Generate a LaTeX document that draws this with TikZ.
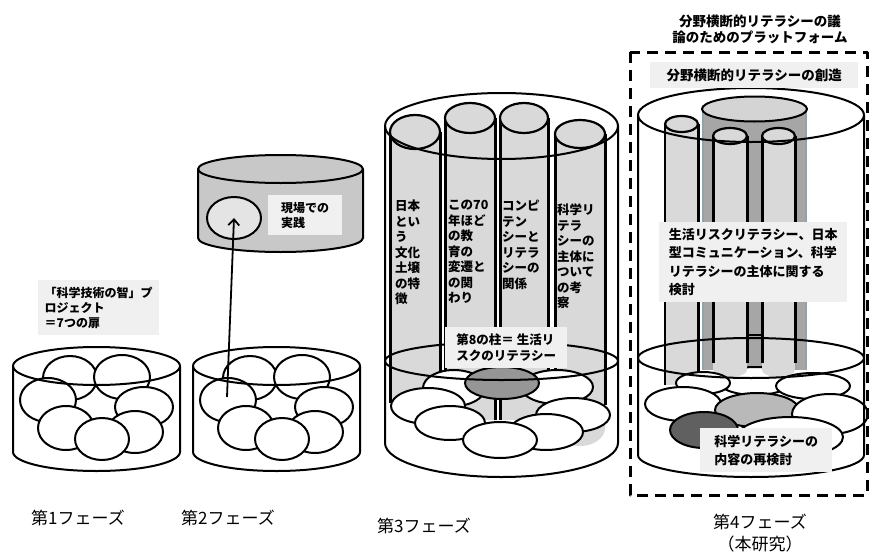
\documentclass[tikz,border=0pt]{standalone}
\usepackage{fontspec}
\newfontfamily\jp{Noto Sans CJK JP}
\usetikzlibrary{arrows.meta,shapes.geometric}
\definecolor{boxgray}{RGB}{240,240,240}
\definecolor{pilgray}{RGB}{217,217,217}
\definecolor{cylgray}{RGB}{200,200,200}
\definecolor{midoval}{RGB}{150,150,150}
\definecolor{bigcyl}{RGB}{166,166,166}
\definecolor{bigtop}{RGB}{212,212,212}
\definecolor{bigedge}{RGB}{143,163,168}
\definecolor{lightoval}{RGB}{185,185,185}
\definecolor{darkoval}{RGB}{96,96,96}
\definecolor{practgray}{RGB}{228,228,228}
\begin{document}
\begin{tikzpicture}[x=1pt,y=-1pt,line join=round,
  cyl/.style={line width=2pt},
  oval/.style={line width=2pt,fill=white},
  pilside/.style={line width=3pt},
  lbl/.style={fill=boxgray,align=left,inner sep=0pt,anchor=north west},
  ptxt/.style={anchor=north west,inner sep=0pt,align=left,font=\jp\bfseries\fontsize{12.5}{15.5}\selectfont},
  phase/.style={font=\jp\fontsize{17}{22}\selectfont,align=center}]
\useasboundingbox (0,0) rectangle (871,560);

% ---------------- Phase 1 and 2 bowls ----------------
\foreach \dx in {0,180}{
 \begin{scope}[xshift=\dx]
  \foreach \cx/\cy/\rx/\ry in {70/378/27/22,122/377/28/22,144/407/29/20,48/400/28/22,66/428/28/22,135/432/28/21,102/439/27/21}
    \draw[oval] (\cx,\cy) ellipse [x radius=\rx pt, y radius=\ry pt];
  \draw[cyl] (13,366) -- (13,452) arc[start angle=180,end angle=360,x radius=83.5pt,y radius=19pt] -- (180,366);
  \draw[cyl] (96.5,366) ellipse [x radius=83.5pt, y radius=19pt];
 \end{scope}}

\node[lbl,font=\jp\bfseries\fontsize{12}{15}\selectfont,minimum height=55pt,minimum width=121pt] (p1box) at (38,280)
  {「科学技術の智」プ\\ロジェクト\\＝7つの扉};

% ---------------- Phase 2 upper cylinder ----------------
\fill[cylgray] (198,169) rectangle (363,238);
\fill[cylgray] (280.5,238) ellipse [x radius=82.5pt, y radius=14pt];
\draw[cyl] (198,169) -- (198,238) arc[start angle=180,end angle=360,x radius=82.5pt,y radius=14pt] -- (363,169);
\draw[cyl,fill=cylgray] (280.5,169) ellipse [x radius=82.5pt, y radius=14pt];
\node[draw,ellipse,line width=2pt,fill=practgray,minimum width=54pt,minimum height=42pt,inner sep=0pt] (pract) at (234,218) {};
\node[lbl,font=\jp\bfseries\fontsize{12}{15}\selectfont,minimum height=40pt,minimum width=74pt] (p2box) at (268,195) {現場での\\実践};
\coordinate (arrstart) at (227,397);
\draw[line width=1.8pt,-{Straight Barb[length=6pt,width=11pt,line width=1.8pt]}] (arrstart) -- (pract.center);

% ---------------- Phase 3 ----------------
\foreach \xl/\xr/\yt/\yb/\ry in {390/440/132/403/17,445/495/118/420/15,500/548/118/420/15}{
  \pgfmathsetmacro\rr{(\xr-\xl)/2}
  \pgfmathsetmacro\mx{(\xr+\xl)/2}
  \fill[pilgray] (\xl,\yt) rectangle (\xr,\yb);
  \draw[pilside] (\xl,\yt) -- (\xl,\yb);
  \draw[pilside] (\xr,\yt) -- (\xr,\yb);
  \draw[line width=2.2pt,fill=pilgray] (\mx,\yt) ellipse [x radius=\rr pt, y radius=\ry pt];
}
% pillar 4 with rounded bottom
\fill[pilgray] (555,134) rectangle (605,428);
\fill[pilgray] (580,428) ellipse [x radius=25pt, y radius=18pt];
\draw[pilside] (555,134) -- (555,405);
\draw[pilside] (605,134) -- (605,405);
\draw[line width=2.2pt,fill=pilgray] (580,134) ellipse [x radius=25pt, y radius=14pt];

\node[ptxt] (t31) at (395,200) {日本\\とい\\う\\文化\\土壌\\の特\\徴};
\node[ptxt] (t32) at (448,200) {この70\\年ほど\\の教\\育の\\変遷と\\の関\\わり};
\node[ptxt] (t33) at (502,200) {コンピ\\テン\\シーと\\リテラ\\シーの\\関係};
\node[ptxt] (t34) at (557,204) {科学リ\\テラ\\シーの\\主体に\\ついて\\の考\\察};
\draw[oval] (454,388) ellipse [x radius=31pt, y radius=18pt];
\draw[oval] (557,387) ellipse [x radius=36pt, y radius=17pt];
\draw[line width=2pt,fill=midoval] (502,383) ellipse [x radius=37pt, y radius=16pt];
\draw[oval] (428,406) ellipse [x radius=37pt, y radius=18pt];
\draw[oval] (573,415) ellipse [x radius=37pt, y radius=17pt];
\draw[oval] (450,423) ellipse [x radius=35pt, y radius=17pt];
\draw[oval] (546,432) ellipse [x radius=37pt, y radius=18pt];
\draw[oval] (500,440) ellipse [x radius=37pt, y radius=18pt];
\draw[cyl] (501.5,361) ellipse [x radius=116.5pt, y radius=19pt];
\node[lbl,font=\jp\bfseries\fontsize{12.5}{16.5}\selectfont,minimum height=41pt,minimum width=122pt] (p3box) at (445,327) {第8の柱＝ 生活リ\\スクのリテラシー};
\draw[cyl] (385,126) -- (385,443) arc[start angle=180,end angle=360,x radius=116.5pt,y radius=34pt] -- (618,126);
\draw[cyl] (501.5,126) ellipse [x radius=116.5pt, y radius=33pt];

% ---------------- Phase 4 ----------------
\fill[bigcyl] (702,109) rectangle (807,370);
\draw[bigedge,line width=2.5pt] (703,109) -- (703,370);
\draw[bigedge,line width=2.5pt] (806,109) -- (806,370);
\draw[line width=2pt,fill=bigtop] (754.5,109) ellipse [x radius=52.5pt, y radius=12.5pt];
\fill[pilgray] (665,124) rectangle (698,385);
\draw[line width=1.5pt] (665,124) -- (665,385);
\draw[pilside] (698,124) -- (698,385);
\draw[line width=2.2pt,fill=pilgray] (681.5,124) ellipse [x radius=16.5pt, y radius=8pt];
\draw[oval] (755,381) ellipse [x radius=37pt, y radius=14pt];
\foreach \xl/\xr in {713/747,762/795}{
  \pgfmathsetmacro\rr{(\xr-\xl)/2}
  \pgfmathsetmacro\mx{(\xr+\xl)/2}
  \fill[pilgray] (\xl,136) rectangle (\xr,370);
  \fill[pilgray] (\mx,370) ellipse [x radius=\rr pt, y radius=7pt];
  \draw[pilside] (\xl,136) -- (\xl,363);
  \draw[pilside] (\xr,136) -- (\xr,363);
  \draw[line width=2.2pt,fill=pilgray] (\mx,136) ellipse [x radius=\rr pt, y radius=8pt];
}
\draw[line width=1.5pt] (747,335) -- (762,335);
\draw[oval] (703,383) ellipse [x radius=27pt, y radius=11pt];
\draw[oval] (813,386) ellipse [x radius=37pt, y radius=13pt];
\draw[oval] (683,404) ellipse [x radius=38pt, y radius=17pt];
\draw[line width=2pt,fill=lightoval] (757,410) ellipse [x radius=42pt, y radius=17pt];
\draw[oval] (830,414) ellipse [x radius=38pt, y radius=20pt];
\draw[oval] (790,437) ellipse [x radius=53pt, y radius=20pt];
\draw[line width=2pt,fill=darkoval] (704,430) ellipse [x radius=34pt, y radius=18pt];
\draw[cyl] (751,358) ellipse [x radius=113pt, y radius=20pt];
\draw[cyl] (638,115) -- (638,455) arc[start angle=180,end angle=360,x radius=113pt,y radius=22pt] -- (864,115);
\draw[cyl] (751,115) ellipse [x radius=113pt, y radius=27pt];
\node[lbl,font=\jp\bfseries\fontsize{13.5}{16}\selectfont,minimum height=26pt,minimum width=208pt] (p4top) at (650,62) {分野横断的リテラシーの創造};
\node[lbl,minimum height=80pt,minimum width=188pt,font=\jp\bfseries\fontsize{13}{18.5}\selectfont] (p4mid) at (659,222)
  {生活リスクリテラシー、日本\\型コミュニケーション、科学\\リテラシーの主体に関する\\検討};
\node[lbl,minimum height=44pt,minimum width=132pt,font=\jp\bfseries\fontsize{13}{18}\selectfont] (p4low) at (700,428)
  {科学リテラシーの\\内容の再検討};
\draw[line width=3pt,dash pattern=on 11pt off 7pt] (630,52) rectangle (867,495);
\node[align=center,inner sep=0pt,font=\jp\bfseries\fontsize{13.5}{16}\selectfont] (plat) at (760,29)
  {分野横断的リテラシーの議\\論のためのプラットフォーム};

% ---------------- Phase labels ----------------
\node[phase] (ph1) at (78,518) {第1フェーズ};
\node[phase] (ph2) at (228,518) {第2フェーズ};
\node[phase] (ph3) at (424,526) {第3フェーズ};
\node[phase] (ph4) at (760,533) {第4フェーズ\\（本研究）};
\end{tikzpicture}
\end{document}
